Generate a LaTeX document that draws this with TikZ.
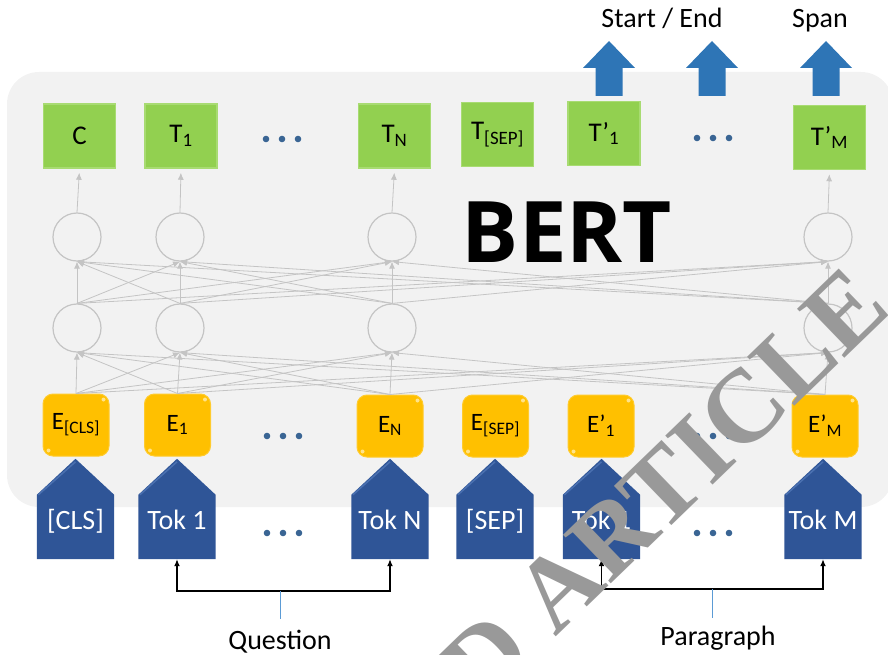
\documentclass[tikz,border=0pt]{standalone}
\usepackage{fontspec}
\setmainfont{Carlito}
\newfontfamily\bertfont{Open Sans}
\newfontfamily\stampfont{Liberation Serif}
\usetikzlibrary{arrows.meta,backgrounds}

\definecolor{panelgray}{HTML}{F2F2F2}
\definecolor{outgreen}{HTML}{92D050}
\definecolor{outgreenedge}{HTML}{A8DB72}
\definecolor{embyellow}{HTML}{FFC000}
\definecolor{embyellowedge}{HTML}{FFCB2E}
\definecolor{embglint}{HTML}{FFE38A}
\definecolor{tokblue}{HTML}{2F5597}
\definecolor{tokbluehi}{HTML}{4A70B0}
\definecolor{headblue}{HTML}{2E75B6}
\definecolor{stemblue}{HTML}{5B9BD5}
\definecolor{dotblue}{HTML}{3A6594}
\definecolor{netgray}{HTML}{C4C4C4}
\definecolor{stampgray}{HTML}{999999}

\begin{document}
\begin{tikzpicture}[x=1pt,y=-1pt,
  outbox/.style={fill=outgreen, draw=outgreenedge, line width=1.5pt, minimum width=72pt,
    minimum height=64pt, inner sep=0pt, font=\fontsize{27}{30}\selectfont},
  embbox/.style={fill=embyellow, draw=embyellowedge, line width=1pt, rounded corners=10pt,
    minimum width=66pt, minimum height=62pt, inner sep=0pt, font=\fontsize{25}{30}\selectfont},
  tokbox/.style={inner sep=0pt, minimum width=77pt, text height=34pt, text depth=30pt,
    text=white, font=\fontsize{28}{32}\selectfont},
  neuron/.style={circle, draw=netgray, line width=1.2pt, minimum size=48pt, inner sep=0pt},
  netline/.style={draw=netgray, line width=0.8pt, -{Latex[length=7pt,width=6pt]}},
  brk/.style={line width=1.3pt, -{Latex[length=7pt,width=6pt]}},
  stemline/.style={stemblue, line width=1pt},
  capt/.style={font=\fontsize{28}{32}\selectfont, anchor=base},
]
\useasboundingbox (0,0) rectangle (888,655);
\clip (0,0) rectangle (888,655);

\begin{scope}[on background layer]
\fill[panelgray, rounded corners=32pt] (7,72) rectangle (893,507);
\end{scope}

% output layer
\node[outbox] (g1) at (79.5,136) {C};
\node[outbox] (g2) at (181,136) {T\textsubscript{1}};
\node[outbox] (g3) at (394.5,136) {T\textsubscript{N}};
\node[outbox] (g4) at (497.5,134.5) {T\textsubscript{[SEP]}};
\node[outbox] (g5) at (604,133.5) {T’\textsubscript{1}};
\node[outbox] (g6) at (829.5,137.5) {T’\textsubscript{M}};

% hidden units
\node[neuron] (u1) at (77,237) {};
\node[neuron] (u2) at (180,237) {};
\node[neuron] (u3) at (392,237) {};
\node[neuron] (u6) at (828,237) {};
\node[neuron] (l1) at (77,328) {};
\node[neuron] (l2) at (180,328) {};
\node[neuron] (l3) at (392,328) {};
\node[neuron] (l6) at (828,328) {};

% embeddings
\node[embbox] (e1) at (76,425) {E\textsubscript{[CLS]}};
\node[embbox] (e2) at (177.5,425) {E\textsubscript{1}};
\node[embbox] (e3) at (390,426) {E\textsubscript{N}};
\node[embbox] (e4) at (495.5,426) {E\textsubscript{[SEP]}};
\node[embbox] (e5) at (601,426) {E’\textsubscript{1}};
\node[embbox] (e6) at (825,426) {E’\textsubscript{M}};
\foreach \i in {1,...,6} {
  \fill[embglint] ([shift={(-6pt,-6pt)}]e\i.north east) circle (2pt);
  \fill[embglint] ([shift={(6pt,6pt)}]e\i.south west) circle (2pt);
}

% input tokens
\node[tokbox] (k1) at (75.5,527) {[CLS]};
\node[tokbox] (k2) at (177,527) {Tok 1};
\node[tokbox] (k3) at (390,527) {Tok N};
\node[tokbox] (k4) at (495,527) {[SEP]};
\node[tokbox] (k5) at (601.5,527) {Tok 1};
\node[tokbox] (k6) at (823,527) {Tok M};
\begin{scope}[on background layer]
\foreach \i in {1,...,6} {
  \fill[tokblue] (k\i.south west) -- (k\i.north west) -- ([yshift=36pt]k\i.north)
    -- (k\i.north east) -- (k\i.south east) -- cycle;
  \draw[tokbluehi, line width=1.5pt] ([xshift=1.5pt]k\i.north west) -- ([yshift=33pt]k\i.north);
}
\end{scope}

% fully connected layers
\foreach \a in {1,2,3,6}
  \foreach \b in {1,2,3,6} {
    \draw[netline] (e\a.north) -- (l\b.south);
    \draw[netline] (l\a.north) -- (u\b.south);
  }
\foreach \a in {1,2,3,6}
  \draw[netline, shorten >=4pt] (u\a.north) -- (g\a.south);

% ellipses
\foreach \x/\y in {282/139, 713/138, 283/436, 713/436, 283/533, 713/533}
  \foreach \d in {-16,0,16}
    \fill[dotblue] (\x+\d,\y) circle (3.3pt);

% start / end arrows
\foreach \x in {609,712,826}
  \fill[headblue] (\x-13.5,96) -- (\x-13.5,68) -- (\x-26,68) -- (\x,41)
    -- (\x+26,68) -- (\x+13.5,68) -- (\x+13.5,96) -- cycle;
\node[capt] (startend) at (662,28) {Start / End};
\node[capt] (span) at (820,28) {Span};

\node[anchor=base, font=\bertfont\bfseries\fontsize{85}{90}\selectfont] (bert) at (567,262) {BERT};

% question / paragraph brackets
\coordinate (qmid) at (280,591);
\coordinate (qend) at (280,619);
\draw[brk] (qmid) -| (k2.south);
\draw[brk] (qmid) -| (k3.south);
\draw[stemline] (qmid) -- (qend);
\node[capt] (question) at (280,649) {Question};

\coordinate (pmid) at (712,589);
\coordinate (pend) at (712,618);
\draw[brk] (pmid) -| (k5.south);
\draw[brk] (pmid) -| (k6.south);
\draw[stemline] (pmid) -- (pend);
\node[capt] (paragraph) at (718,645) {Paragraph};

\node[anchor=base east, rotate=44, inner sep=0pt, text=stampgray,
  font=\stampfont\bfseries\fontsize{104}{110}\selectfont] (stamp) at (894,311) {ACCEPTED ARTICLE};
\end{tikzpicture}
\end{document}
